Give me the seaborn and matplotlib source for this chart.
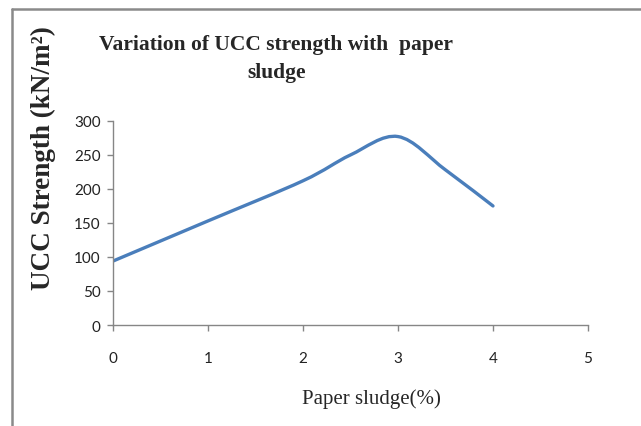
import numpy as np
import seaborn as sns
import matplotlib.pyplot as plt
from matplotlib.path import Path
from matplotlib.patches import PathPatch
from matplotlib.lines import Line2D

# data
sludge_pct = [0, 1, 2, 2.5, 3, 3.5, 4]
ucc_strength = [94, 153, 212, 250, 277, 228, 175]
x_ticks = [0, 1, 2, 3, 4, 5]
y_ticks = [0, 50, 100, 150, 200, 250, 300]

LINE_COLOR = "#4a7ebb"
AXIS_COLOR = "#868686"

sns.set_theme(style="white")
plt.rcParams["font.family"] = ["Lato", "DejaVu Sans"]

fig = plt.figure(figsize=(6.41, 4.27), dpi=100)
ax = fig.add_axes([0.1763, 0.2365, 0.741, 0.478])


def smooth_path(xs, ys):
    # Excel-style smoothed line: cubic Bezier through every point
    pts = np.column_stack([xs, ys]).astype(float)
    padded = np.vstack([pts[0], pts, pts[-1]])
    verts = [pts[0]]
    codes = [Path.MOVETO]
    for i in range(len(pts) - 1):
        p0, p1, p2, p3 = padded[i], padded[i + 1], padded[i + 2], padded[i + 3]
        c1 = p1 + (p2 - p0) / 6.0
        c2 = p2 - (p3 - p1) / 6.0
        verts += [c1, c2, p2]
        codes += [Path.CURVE4] * 3
    return Path(verts, codes)


ax.add_patch(PathPatch(smooth_path(sludge_pct, ucc_strength), facecolor="none",
                       edgecolor=LINE_COLOR, linewidth=2.4, capstyle="round"))

ax.set_xlim(0, 5)
ax.set_ylim(0, 300)
ax.set_xticks(x_ticks)
ax.set_yticks(y_ticks)
sns.despine(ax=ax)
for side in ["left", "bottom"]:
    ax.spines[side].set_color(AXIS_COLOR)
    ax.spines[side].set_linewidth(1.0)
ax.tick_params(axis="both", direction="out", length=4, width=1.0, color=AXIS_COLOR,
               labelsize=11, labelcolor="#222222", pad=5, left=True, bottom=True)
ax.tick_params(axis="x", pad=15)
ax.grid(False)

# titles / labels placed in figure coords like the original Excel chart
fig.text(0.431, 0.862, "Variation of UCC strength with  paper\nsludge",
         ha="center", va="center", fontsize=15.5, fontweight="bold",
         family=["Liberation Serif", "DejaVu Serif"], linespacing=1.5)
fig.text(0.068, 0.63, "UCC Strength (kN/m²)", rotation=90,
         ha="center", va="center", fontsize=19.5, fontweight="bold",
         family=["Liberation Serif", "DejaVu Serif"])
fig.text(0.579, 0.066, "Paper sludge(%)", ha="center", va="center",
         fontsize=15, family=["Liberation Serif", "DejaVu Serif"])

# outer chart frame (top and left edges visible)
fig.add_artist(Line2D([12 / 641, 1], [1 - 10 / 427, 1 - 10 / 427],
                      transform=fig.transFigure, color="#8a8a8a", linewidth=1.8))
fig.add_artist(Line2D([12 / 641, 12 / 641], [0, 1 - 10 / 427],
                      transform=fig.transFigure, color="#8a8a8a", linewidth=1.8))

fig.savefig("out.png", dpi=100)
